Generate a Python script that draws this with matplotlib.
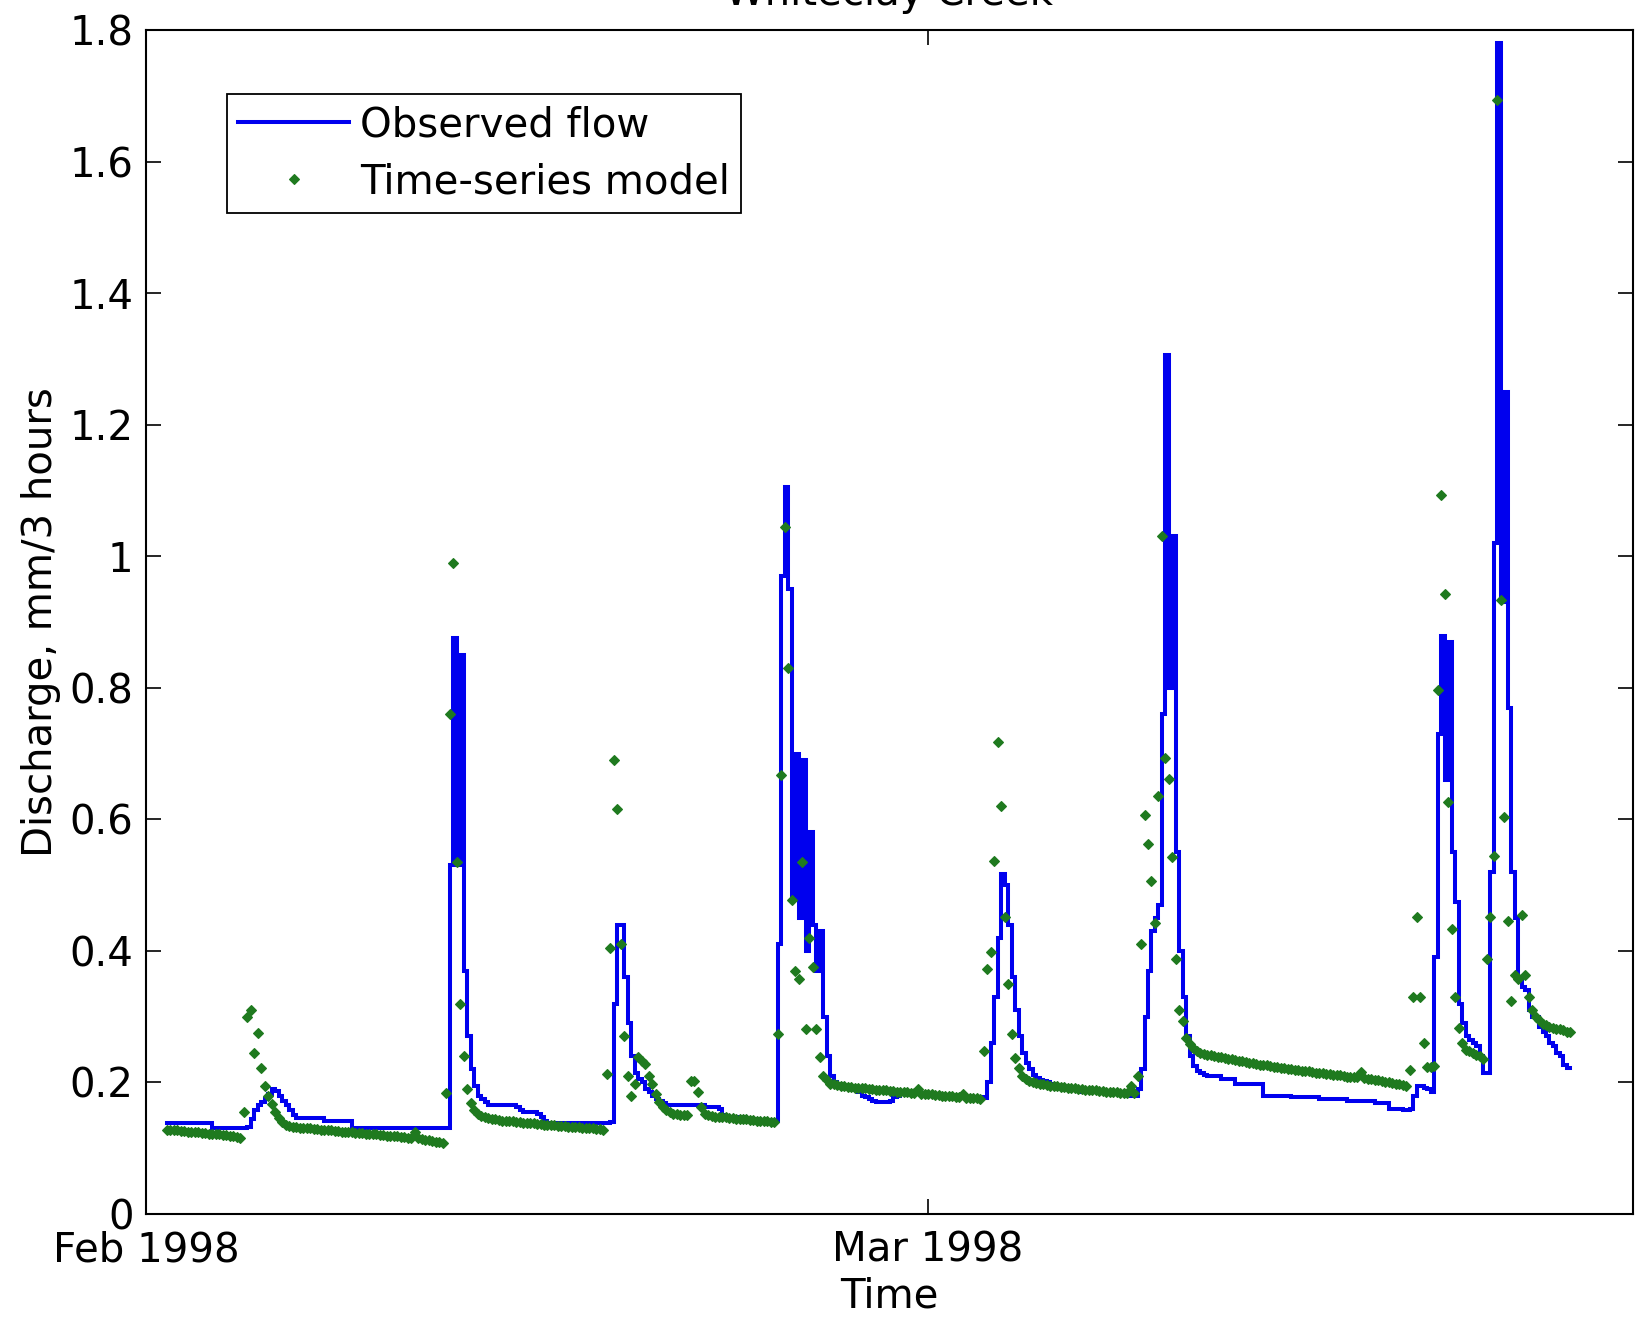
import numpy as np
import pandas as pd
import matplotlib
matplotlib.use("Agg")
import matplotlib.pyplot as plt
import matplotlib.dates as mdates
from matplotlib.ticker import FormatStrFormatter

# 3-hourly discharge (mm/3 hours) from 1 Feb 1998 18:00, one row per day
observed = [
    [0.139, 0.139],
    [0.139, 0.139, 0.139, 0.139, 0.139, 0.139, 0.139, 0.139],
    [0.139, 0.139, 0.139, 0.130, 0.130, 0.130, 0.130, 0.130],
    [0.130, 0.130, 0.130, 0.130, 0.130, 0.133, 0.145, 0.158],
    [0.165, 0.170, 0.175, 0.183, 0.190, 0.187, 0.180, 0.172],
    [0.165, 0.158, 0.150, 0.146, 0.146, 0.146, 0.146, 0.146],
    [0.146, 0.146, 0.146, 0.141, 0.141, 0.141, 0.141, 0.141],
    [0.141, 0.141, 0.141, 0.130, 0.130, 0.130, 0.130, 0.130],
    [0.130, 0.130, 0.130, 0.130, 0.130, 0.130, 0.130, 0.130],
    [0.130, 0.130, 0.130, 0.130, 0.130, 0.130, 0.130, 0.130],
    [0.130, 0.130, 0.130, 0.130, 0.130, 0.130, 0.130, 0.530],
    [0.875, 0.530, 0.850, 0.370, 0.270, 0.220, 0.195, 0.180],
    [0.175, 0.170, 0.166, 0.165, 0.165, 0.165, 0.165, 0.165],
    [0.165, 0.165, 0.163, 0.158, 0.155, 0.155, 0.155, 0.155],
    [0.152, 0.148, 0.142, 0.138, 0.138, 0.138, 0.138, 0.138],
    [0.138, 0.138, 0.138, 0.138, 0.138, 0.138, 0.138, 0.138],
    [0.138, 0.138, 0.138, 0.138, 0.138, 0.140, 0.320, 0.440],
    [0.440, 0.360, 0.290, 0.240, 0.215, 0.205, 0.200, 0.190],
    [0.186, 0.180, 0.175, 0.172, 0.168, 0.165, 0.165, 0.165],
    [0.165, 0.165, 0.165, 0.165, 0.165, 0.165, 0.165, 0.165],
    [0.163, 0.163, 0.163, 0.163, 0.160, 0.150, 0.148, 0.148],
    [0.148, 0.148, 0.148, 0.148, 0.145, 0.145, 0.145, 0.145],
    [0.142, 0.142, 0.142, 0.142, 0.142, 0.410, 0.970, 1.105],
    [0.950, 0.480, 0.700, 0.450, 0.690, 0.400, 0.580, 0.440],
    [0.370, 0.430, 0.300, 0.240, 0.210, 0.200, 0.198, 0.196],
    [0.195, 0.195, 0.190, 0.188, 0.185, 0.180, 0.178, 0.175],
    [0.172, 0.170, 0.170, 0.170, 0.170, 0.172, 0.178, 0.180],
    [0.182, 0.182, 0.182, 0.182, 0.182, 0.182, 0.182, 0.182],
    [0.180, 0.180, 0.180, 0.180, 0.180, 0.180, 0.180, 0.180],
    [0.178, 0.178, 0.178, 0.178, 0.178, 0.178, 0.178, 0.178],
    [0.176, 0.200, 0.260, 0.330, 0.420, 0.517, 0.500, 0.440],
    [0.360, 0.310, 0.270, 0.245, 0.230, 0.220, 0.212, 0.207],
    [0.204, 0.202, 0.200, 0.198, 0.196, 0.195, 0.194, 0.193],
    [0.190, 0.190, 0.190, 0.188, 0.186, 0.185, 0.185, 0.185],
    [0.185, 0.185, 0.185, 0.185, 0.185, 0.185, 0.185, 0.185],
    [0.183, 0.182, 0.180, 0.180, 0.190, 0.220, 0.300, 0.370],
    [0.430, 0.450, 0.470, 0.760, 1.306, 0.800, 1.030, 0.550],
    [0.400, 0.330, 0.270, 0.240, 0.225, 0.218, 0.215, 0.212],
    [0.210, 0.210, 0.210, 0.210, 0.205, 0.205, 0.205, 0.205],
    [0.198, 0.198, 0.198, 0.198, 0.198, 0.198, 0.198, 0.198],
    [0.180, 0.180, 0.180, 0.180, 0.180, 0.180, 0.180, 0.180],
    [0.178, 0.178, 0.178, 0.178, 0.178, 0.178, 0.178, 0.178],
    [0.175, 0.175, 0.175, 0.175, 0.175, 0.175, 0.175, 0.175],
    [0.172, 0.172, 0.172, 0.172, 0.172, 0.172, 0.172, 0.172],
    [0.168, 0.168, 0.168, 0.168, 0.160, 0.160, 0.160, 0.160],
    [0.158, 0.158, 0.160, 0.180, 0.195, 0.195, 0.192, 0.190],
    [0.185, 0.390, 0.730, 0.878, 0.660, 0.870, 0.550, 0.475],
    [0.320, 0.290, 0.270, 0.265, 0.260, 0.255, 0.240, 0.215],
    [0.215, 0.520, 1.020, 1.780, 0.930, 1.250, 0.770, 0.520],
    [0.450, 0.360, 0.345, 0.340, 0.310, 0.300, 0.300, 0.285],
    [0.277, 0.270, 0.260, 0.255, 0.245, 0.240, 0.226, 0.222],
    [0.222],
]

model = [
    [0.128, 0.128],
    [0.127, 0.127, 0.126, 0.126, 0.125, 0.125, 0.124, 0.124],
    [0.123, 0.123, 0.122, 0.122, 0.121, 0.121, 0.120, 0.120],
    [0.119, 0.118, 0.117, 0.116, 0.155, 0.300, 0.310, 0.245],
    [0.275, 0.222, 0.195, 0.180, 0.167, 0.155, 0.146, 0.140],
    [0.136, 0.134, 0.133, 0.132, 0.131, 0.131, 0.130, 0.130],
    [0.129, 0.129, 0.128, 0.128, 0.127, 0.127, 0.126, 0.126],
    [0.125, 0.125, 0.124, 0.124, 0.123, 0.123, 0.123, 0.122],
    [0.122, 0.121, 0.121, 0.120, 0.120, 0.119, 0.119, 0.118],
    [0.118, 0.117, 0.117, 0.116, 0.116, 0.124, 0.115, 0.114],
    [0.113, 0.112, 0.111, 0.110, 0.109, 0.108, 0.184, 0.760],
    [0.990, 0.535, 0.320, 0.240, 0.190, 0.168, 0.158, 0.152],
    [0.149, 0.147, 0.146, 0.145, 0.144, 0.143, 0.142, 0.142],
    [0.141, 0.141, 0.140, 0.140, 0.139, 0.139, 0.138, 0.138],
    [0.137, 0.137, 0.136, 0.136, 0.135, 0.135, 0.134, 0.134],
    [0.134, 0.133, 0.133, 0.132, 0.132, 0.131, 0.131, 0.130],
    [0.130, 0.129, 0.129, 0.128, 0.213, 0.405, 0.690, 0.615],
    [0.410, 0.270, 0.210, 0.180, 0.197, 0.239, 0.233, 0.228],
    [0.210, 0.197, 0.183, 0.170, 0.163, 0.158, 0.155, 0.152],
    [0.152, 0.151, 0.150, 0.150, 0.202, 0.202, 0.185, 0.163],
    [0.152, 0.150, 0.149, 0.148, 0.148, 0.147, 0.147, 0.146],
    [0.146, 0.145, 0.145, 0.144, 0.144, 0.143, 0.143, 0.142],
    [0.142, 0.141, 0.141, 0.140, 0.140, 0.273, 0.667, 1.044],
    [0.830, 0.477, 0.369, 0.357, 0.535, 0.281, 0.420, 0.375],
    [0.281, 0.238, 0.210, 0.203, 0.198, 0.197, 0.196, 0.195],
    [0.194, 0.193, 0.193, 0.192, 0.192, 0.191, 0.191, 0.190],
    [0.190, 0.189, 0.189, 0.188, 0.188, 0.187, 0.187, 0.186],
    [0.186, 0.185, 0.185, 0.184, 0.184, 0.190, 0.183, 0.183],
    [0.182, 0.182, 0.181, 0.181, 0.180, 0.180, 0.179, 0.179],
    [0.178, 0.178, 0.183, 0.177, 0.177, 0.176, 0.176, 0.175],
    [0.248, 0.373, 0.399, 0.537, 0.718, 0.621, 0.451, 0.350],
    [0.273, 0.237, 0.222, 0.210, 0.205, 0.202, 0.200, 0.199],
    [0.198, 0.197, 0.196, 0.195, 0.195, 0.194, 0.193, 0.193],
    [0.192, 0.192, 0.191, 0.190, 0.190, 0.189, 0.189, 0.188],
    [0.188, 0.187, 0.187, 0.186, 0.186, 0.185, 0.185, 0.184],
    [0.184, 0.184, 0.195, 0.184, 0.210, 0.410, 0.607, 0.562],
    [0.507, 0.442, 0.636, 1.031, 0.694, 0.662, 0.543, 0.388],
    [0.310, 0.293, 0.267, 0.258, 0.252, 0.248, 0.245, 0.243],
    [0.242, 0.241, 0.240, 0.239, 0.238, 0.237, 0.236, 0.235],
    [0.234, 0.233, 0.232, 0.231, 0.230, 0.229, 0.228, 0.227],
    [0.226, 0.226, 0.225, 0.224, 0.223, 0.222, 0.222, 0.221],
    [0.220, 0.219, 0.219, 0.218, 0.217, 0.217, 0.216, 0.215],
    [0.215, 0.214, 0.213, 0.213, 0.212, 0.211, 0.211, 0.210],
    [0.209, 0.209, 0.208, 0.208, 0.216, 0.206, 0.205, 0.205],
    [0.204, 0.203, 0.202, 0.201, 0.200, 0.199, 0.198, 0.197],
    [0.196, 0.195, 0.219, 0.330, 0.452, 0.330, 0.260, 0.224],
    [0.224, 0.225, 0.796, 1.093, 0.942, 0.627, 0.434, 0.330],
    [0.283, 0.260, 0.250, 0.248, 0.245, 0.242, 0.240, 0.236],
    [0.388, 0.452, 0.545, 1.694, 0.933, 0.603, 0.446, 0.324],
    [0.364, 0.358, 0.455, 0.364, 0.330, 0.310, 0.300, 0.295],
    [0.289, 0.287, 0.285, 0.283, 0.282, 0.281, 0.279, 0.277],
    [0.277],
]

start = "1998-02-01 18:00"
ytick_values = [0, 0.2, 0.4, 0.6, 0.8, 1.0, 1.2, 1.4, 1.6, 1.8]


def main():
    obs = np.concatenate(observed)
    sim = np.concatenate(model)
    t = pd.date_range(start, periods=len(obs), freq="3h")

    plt.rcParams["font.family"] = "DejaVu Sans"
    fs = 29

    fig = plt.figure(figsize=(16.38, 13.18), dpi=100)
    ax = fig.add_axes([146 / 1638, 1 - 1214 / 1318, 1487 / 1638, 1184 / 1318])

    ax.plot(t, obs, color="#0000ee", lw=2.9, drawstyle="steps-post",
            solid_joinstyle="miter", label="Observed flow")
    ax.plot(t, sim, ls="none", marker="D", ms=4.6, mew=0.8, color="#1f7a1f",
            label="Time-series model")

    t0 = pd.Timestamp("1998-02-01")
    ax.set_xlim(t0, t0 + pd.Timedelta(days=53.24))
    ax.set_ylim(0, 1.8)
    ax.set_yticks(ytick_values)
    ax.yaxis.set_major_formatter(FormatStrFormatter("%g"))
    ax.xaxis.set_major_locator(mdates.MonthLocator())
    ax.xaxis.set_major_formatter(mdates.DateFormatter("%b %Y"))

    ax.tick_params(direction="in", length=11, width=1.2, top=True, right=True,
                   labelsize=fs)
    ax.tick_params(axis="y", pad=9)
    ax.tick_params(axis="x", pad=12)
    for s in ax.spines.values():
        s.set_linewidth(1.5)

    ax.set_xlabel("Time", fontsize=fs, labelpad=4)
    ax.set_ylabel("Discharge, mm/3 hours", fontsize=fs, labelpad=6)
    fig.text(889.5 / 1638, 1 - 5 / 1318, "Whiteclay Creek", ha="center",
             va="baseline", fontsize=fs)

    leg = ax.legend(loc="upper left", bbox_to_anchor=(0.0545, 0.946),
                    borderaxespad=0, fontsize=fs, frameon=True, fancybox=False,
                    framealpha=1, edgecolor="black", handlelength=2.75,
                    handletextpad=0.27, borderpad=0.28, labelspacing=0.42,
                    numpoints=1)
    leg.get_frame().set_linewidth(1.3)

    fig.savefig("out.png", dpi=100)


if __name__ == "__main__":
    main()
